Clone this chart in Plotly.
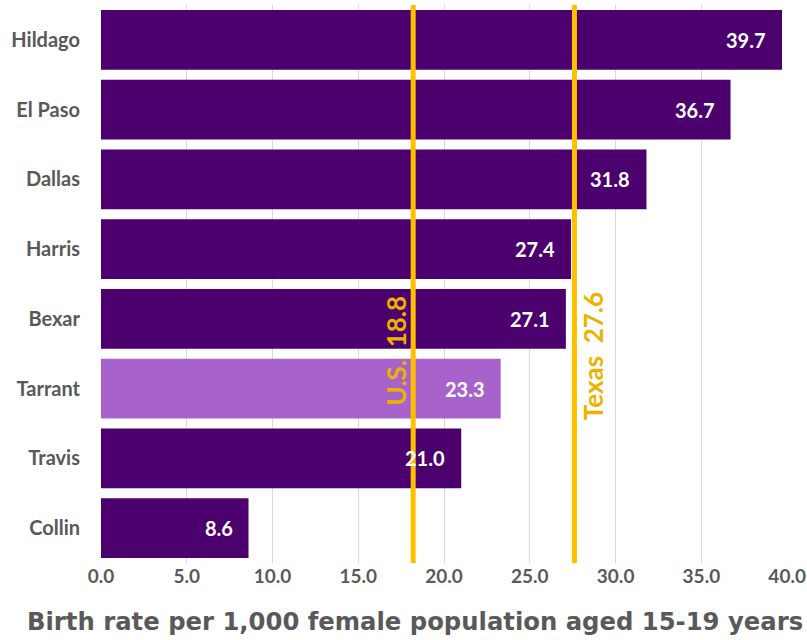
import plotly.graph_objects as go

counties = ["Hildago", "El Paso", "Dallas", "Harris", "Bexar", "Tarrant", "Travis", "Collin"]
rates = [39.7, 36.7, 31.8, 27.4, 27.1, 23.3, 21.0, 8.6]
highlight = "Tarrant"

us_label = "U.S.&nbsp;&nbsp;18.8"
us_line_x = 18.2
tx_label = "Texas&nbsp;&nbsp;27.6"
tx_line_x = 27.6

tick_vals = [0, 5, 10, 15, 20, 25, 30, 35, 40]
tick_text = ["0.0", "5.0", "10.0", "15.0", "20.0", "25.0", "30.0", "35.0", "40.0"]
x_title = "Birth rate per 1,000 female population aged 15-19 years"

DARK = "#4B006E"
LIGHT = "#A862CC"
ORANGE = "#FFC000"
ORANGE_TXT = "#EDB200"
GRAY = "#595959"
FONT = "Lato"

colors = [LIGHT if c == highlight else DARK for c in counties]

fig = go.Figure()
fig.add_trace(go.Bar(
    x=rates, y=counties, orientation="h",
    marker=dict(color=colors, line=dict(width=0)),
    hoverinfo="skip",
))

for c, v in zip(counties, rates):
    fig.add_annotation(x=v, y=c, text=f"<b>{v:.1f}</b>", showarrow=False,
                       xanchor="right", xshift=-14,
                       font=dict(family=FONT, size=20, color="white"))

for xv in (us_line_x, tx_line_x):
    fig.add_shape(type="line", xref="x", yref="paper", x0=xv, x1=xv, y0=0, y1=1,
                  line=dict(color=ORANGE, width=5), layer="above")

fig.add_annotation(x=us_line_x, y=4.45, text=f"<b>{us_label}</b>", textangle=-90,
                   showarrow=False, xanchor="center", yanchor="middle", xshift=-17,
                   font=dict(family=FONT, size=26, color=ORANGE_TXT))
fig.add_annotation(x=tx_line_x, y=4.53, text=f"<b>{tx_label}</b>", textangle=-90,
                   showarrow=False, xanchor="center", yanchor="middle", xshift=18,
                   font=dict(family=FONT, size=26, color=ORANGE_TXT))

fig.add_annotation(xref="paper", yref="paper", x=0.457, y=-0.1057,
                   text=f"<b>{x_title}</b>", showarrow=False,
                   xanchor="center", yanchor="middle",
                   font=dict(family="DejaVu Sans", size=24.3, color=GRAY))

fig.update_layout(
    width=807, height=640,
    margin=dict(l=101, r=19, t=5, b=77, autoexpand=False),
    plot_bgcolor="white", paper_bgcolor="white",
    bargap=0.14, showlegend=False,
    font=dict(family=FONT, color=GRAY),
)
fig.update_xaxes(
    range=[0, 40.05], tickvals=tick_vals, ticktext=[f"<b>{t}</b>" for t in tick_text],
    showgrid=True, gridcolor="#D9D9D9", gridwidth=1, zeroline=False,
    tickfont=dict(family=FONT, size=19, color=GRAY),
    automargin=False, fixedrange=True,
)
fig.update_yaxes(
    categoryorder="array", categoryarray=counties, autorange="reversed",
    tickfont=dict(family=FONT, size=20, color=GRAY),
    ticklabelstandoff=20, showgrid=False, zeroline=False, automargin=False,
    tickvals=counties, ticktext=[f"<b>{c}</b>" for c in counties],
)

fig.write_html("out.html", config={"displayModeBar": False},
               post_script="document.body.style.margin='0';document.body.style.overflow='hidden';")
